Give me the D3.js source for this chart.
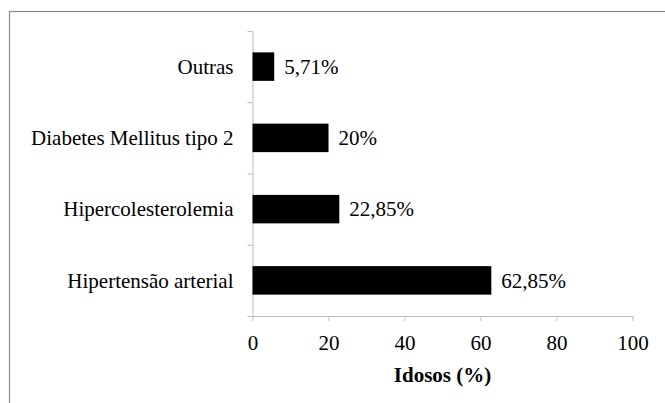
<!DOCTYPE html>
<html><head><meta charset="utf-8">
<script src="https://cdn.jsdelivr.net/npm/d3@7"></script>
</head>
<body style="margin:0;background:#fff"><svg id="c" width="665" height="403"></svg>
<script>
const categories = ["Outras","Diabetes Mellitus tipo 2","Hipercolesterolemia","Hipertensão arterial"];
const values = [5.71, 20, 22.85, 62.85];
const valueLabels = ["5,71%","20%","22,85%","62,85%"];
const xTicks = [0,20,40,60,80,100];
const xTitle = "Idosos (%)";

const FONT = "'Liberation Serif', 'Times New Roman', Times, serif";
const svg = d3.select("#c").attr("font-family", FONT);
svg.append("rect").attr("x",9.5).attr("y",11.5).attr("width",700).attr("height",420)
  .attr("fill","none").attr("stroke","#8a8a8a").attr("stroke-width",1.2);

const pLeft = 252.5, pRight = 632.5, pTop = 31, pBottom = 316;
const x = d3.scaleLinear().domain([0,100]).range([pLeft,pRight]);
const y = d3.scaleBand().domain(categories).range([pTop,pBottom]).paddingInner(0.6).paddingOuter(0.3);
const axisColor = "#bdbdbd";
const fs = "21px";

// x axis
const gx = svg.append("g").attr("transform",`translate(0,${pBottom})`)
  .call(d3.axisBottom(x).tickValues(xTicks).tickSize(5).tickSizeOuter(0).tickPadding(14));
gx.attr("font-family", FONT).attr("font-size", null);
gx.select(".domain").attr("stroke",axisColor);
gx.selectAll(".tick line").attr("stroke",axisColor);
gx.selectAll(".tick text").attr("font-family",FONT).style("font-size",fs).attr("fill","#000");

// y axis: ticks at band boundaries
const yb = d3.scaleLinear().domain([0,categories.length]).range([pTop,pBottom]);
const gy = svg.append("g").attr("transform",`translate(${pLeft},0)`)
  .call(d3.axisLeft(yb).tickValues(d3.range(0,categories.length+1)).tickSize(5).tickSizeOuter(0).tickFormat(""));
gy.select(".domain").attr("stroke",axisColor);
gy.selectAll(".tick line").attr("stroke",axisColor);

// category labels
svg.append("g").selectAll("text").data(categories).join("text")
  .attr("x",pLeft-19).attr("y",d=>y(d)+y.bandwidth()/2).attr("dy","0.35em")
  .attr("text-anchor","end").attr("font-family",FONT).style("font-size",fs).attr("fill","#000").text(d=>d);

// bars
svg.append("g").selectAll("rect").data(values).join("rect")
  .attr("x",x(0)).attr("y",(d,i)=>y(categories[i]))
  .attr("width",d=>x(d)-x(0)).attr("height",y.bandwidth()).attr("fill","#000");

// value labels
svg.append("g").selectAll("text").data(values).join("text")
  .attr("x",d=>x(d)+10).attr("y",(d,i)=>y(categories[i])+y.bandwidth()/2).attr("dy","0.35em")
  .attr("font-family",FONT).style("font-size",fs).attr("fill","#000").text((d,i)=>valueLabels[i]);

// x title
svg.append("text").attr("x",(pLeft+pRight)/2).attr("y",382).attr("text-anchor","middle")
  .attr("font-family",FONT).style("font-size",fs).attr("font-weight","bold").attr("fill","#000").text(xTitle);
</script></body></html>
